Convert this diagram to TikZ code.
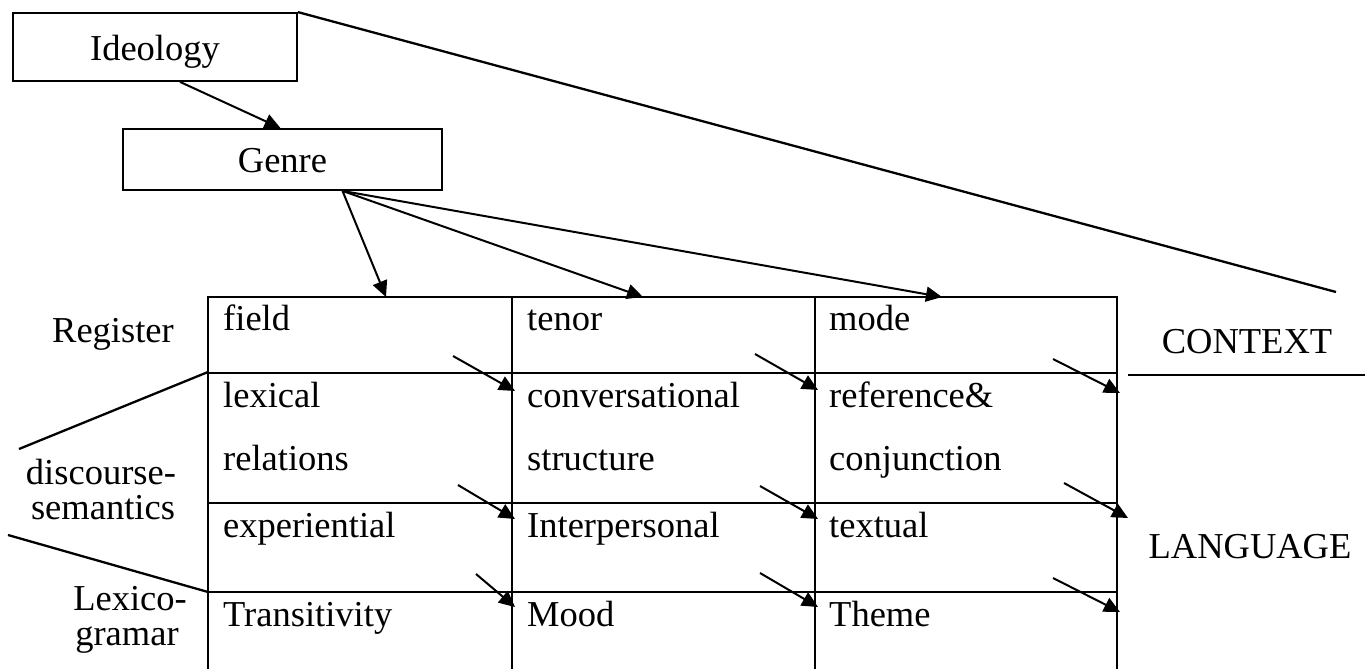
\documentclass[tikz,border=0pt]{standalone}
\usepackage{fontspec}
\setmainfont{Liberation Serif}
\usepackage{tikz}
\usetikzlibrary{arrows.meta}
\usetikzlibrary{positioning}
\tikzstyle{boite}=[
        rectangle,
        draw,
        line width=1.8pt,
        inner sep=0pt,
        text height=30pt,
        text depth=4pt
]
\tikzstyle{cellule}=[anchor=base west,inner sep=0pt]
\tikzstyle{etiquette}=[anchor=base,inner sep=0pt]
\tikzstyle{trait}=[line width=2.3pt]
\tikzstyle{suite}=[-{Triangle[length=16pt,width=15pt]},line width=2pt]

\begin{document}
\begin{tikzpicture}[x=1pt,y=-1pt,font=\fontsize{36.5}{40}\selectfont]
\useasboundingbox (0,0) rectangle (1365,669);
\node[boite,minimum width=284pt,minimum height=68pt] (ideo) at (155,47) {Ideology};
\node[boite,minimum width=319pt,minimum height=61pt] (genre) at (282.5,159.5) {Genre};
%Tableau
\draw[trait] (208,669) -- (208,297) -- (1117,297) -- (1117,669);
\draw[trait] (208,373) -- (1117,373);
\draw[trait] (208,503) -- (1117,503);
\draw[trait] (208,592) -- (1117,592);
\draw[trait] (512,297) -- (512,669);
\draw[trait] (815,297) -- (815,669);
\coordinate (t1) at (386,297);
\coordinate (t2) at (643,297);
\coordinate (t3) at (942,297);
%Cellules
\node[cellule] (field) at (223,330) {field};
\node[cellule] (tenor) at (527,330) {tenor};
\node[cellule] (mode) at (829,330) {mode};
\node[cellule] (lexical) at (223,407) {lexical};
\node[cellule] (relations) at (223,470) {relations};
\node[cellule] (convers) at (527,407) {conversational};
\node[cellule] (structure) at (527,470) {structure};
\node[cellule] (reference) at (829,407) {reference\&};
\node[cellule] (conjunction) at (829,470) {conjunction};
\node[cellule] (experiential) at (223,537) {experiential};
\node[cellule] (interpersonal) at (527,537) {Interpersonal};
\node[cellule] (textual) at (829,537) {textual};
\node[cellule] (transitivity) at (223,626) {Transitivity};
\node[cellule] (mood) at (527,626) {Mood};
\node[cellule] (theme) at (829,626) {Theme};
%Etiquettes
\node[etiquette] (register) at (113,342) {Register};
\node[etiquette] (discourse) at (101,484) {discourse-};
\node[etiquette] (semantics) at (103,519) {semantics};
\node[etiquette] (lexico) at (130,610) {Lexico-};
\node[etiquette] (gramar) at (127,645) {gramar};
\node[etiquette] (context) at (1247,353) {CONTEXT};
\node[etiquette] (language) at (1250,558) {LANGUAGE};
\coordinate (c1) at (1336,292);
\coordinate (c2) at (1128,375);
\coordinate (c3) at (1365,375);
\coordinate (g1) at (208,372);
\coordinate (g2) at (19,449);
\coordinate (g3) at (8,535);
\coordinate (g4) at (208,592);
%Lignes
\draw[trait] (ideo.north east) -- (c1);
\draw[trait] (c2) -- (c3);
\draw[trait] (g1) -- (g2);
\draw[trait] (g3) -- (g4);
%Placementdesflèches
\draw[suite] ([xshift=25pt]ideo.south) -- ([xshift=-2pt]genre.north);
\draw[suite] ([xshift=60pt]genre.south) -- (t1);
\draw[suite] ([xshift=60pt]genre.south) -- (t2);
\draw[suite] ([xshift=60pt]genre.south) -- (t3);
\coordinate (a1) at (453,356);
\coordinate (b1) at (515,391);
\coordinate (a2) at (458,485);
\coordinate (b2) at (515,519);
\coordinate (a3) at (476,574);
\coordinate (b3) at (515,607);
\coordinate (a4) at (755,354);
\coordinate (b4) at (818,390);
\coordinate (a5) at (760,486);
\coordinate (b5) at (818,519);
\coordinate (a6) at (760,573);
\coordinate (b6) at (818,607);
\coordinate (a7) at (1053,359);
\coordinate (b7) at (1120,393);
\coordinate (a8) at (1064,483);
\coordinate (b8) at (1128,518);
\coordinate (a9) at (1053,578);
\coordinate (b9) at (1120,612);
\draw[suite] (a1) -- (b1);
\draw[suite] (a2) -- (b2);
\draw[suite] (a3) -- (b3);
\draw[suite] (a4) -- (b4);
\draw[suite] (a5) -- (b5);
\draw[suite] (a6) -- (b6);
\draw[suite] (a7) -- (b7);
\draw[suite] (a8) -- (b8);
\draw[suite] (a9) -- (b9);
\end{tikzpicture}
\end{document}
